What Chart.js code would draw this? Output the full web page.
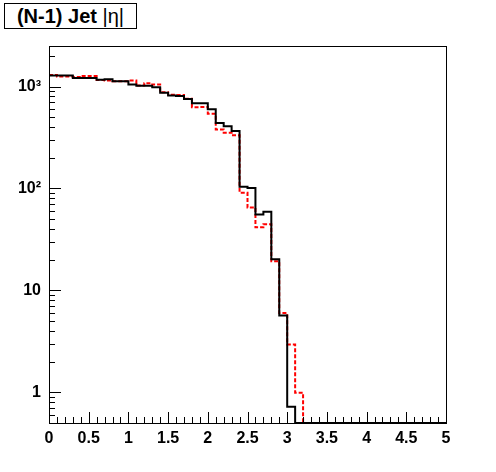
<!DOCTYPE html>
<html>
<head>
<meta charset="utf-8">
<script src="https://cdn.jsdelivr.net/npm/chart.js@4/dist/chart.umd.min.js"></script>
<style>
  html, body { margin: 0; padding: 0; background: #fff; }
  #wrap { position: relative; width: 496px; height: 472px; }
  #c { position: absolute; left: 0; top: 0; }
  #title {
    position: absolute; left: 4px; top: 3px; width: 133px; height: 26px;
    border: 1px solid #000; background: #fff; box-sizing: border-box;
    font: bold 20px "Liberation Sans", Arial, sans-serif; color: #000;
    text-align: center; line-height: 24px; white-space: nowrap;
  }
  #title .eta { font-weight: normal; }
</style>
</head>
<body>
<div id="wrap">
  <canvas id="c" width="496" height="472"></canvas>
  <div id="title">(N-1) Jet <span class="eta">|η|</span></div>
</div>
<script>
// Bin low edges (width 0.1)
const binLow = [0.0,0.1,0.2,0.3,0.4,0.5,0.6,0.7,0.8,0.9,
                1.0,1.1,1.2,1.3,1.4,1.5,1.6,1.7,1.8,1.9,
                2.0,2.1,2.2,2.3,2.4,2.5,2.6,2.7,2.8,2.9,
                3.0,3.1,3.2,3.3,3.4,3.5,3.6,3.7,3.8,3.9,
                4.0,4.1,4.2,4.3,4.4,4.5,4.6,4.7,4.8,4.9];
const binWidth = 0.1;

// Black solid histogram
const blackCounts = [1281,1281,1281,1216,1216,1216,1163,1179,1127,1127,
                     1046,1016,1016,984,868,815,810,755,687,687,
                     600,438,409,366,104,101,55.7,59,20.2,5.67,
                     0.72,0,0,0,0,0,0,0,0,0,
                     0,0,0,0,0,0,0,0,0,0];
// Red dashed histogram
const redCounts = [1302,1253,1253,1239,1272,1272,1157,1144,1127,1127,
                   1144,1023,1077,1046,880,830,826,758,628,630,
                   541,380,353,332,91,65,41.6,44.5,19.3,6.0,
                   2.94,0.99,0,0,0,0,0,0,0,0,
                   0,0,0,0,0,0,0,0,0,0];

const xTickLabels = ['0','0.5','1','1.5','2','2.5','3','3.5','4','4.5','5'];
const yTickValues = [1, 10, 100, 1000];
const yTickLabels = ['1', '10', '10\u00B2', '10\u00B3'];

const Y_MIN = 0.5, Y_MAX = 2500;

function stepPoints(counts) {
  const pts = counts.map((v, i) => ({ x: binLow[i], y: v > 0 ? v : Y_MIN }));
  const last = counts.length - 1;
  pts.push({ x: binLow[last] + binWidth, y: pts[last].y });
  return pts;
}

const FONT = { family: '"Liberation Sans", Arial, sans-serif', size: 16, weight: 'bold' };

const frameTicks = {
  id: 'frameTicks',
  afterDatasetsDraw(chart) {
    const { ctx, chartArea: a, scales } = chart;
    const xs = scales.x, ys = scales.y;
    ctx.save();
    ctx.strokeStyle = '#000';
    ctx.lineWidth = 1;
    ctx.beginPath();
    for (let i = 0; i <= 50; i++) {
      const v = i / 10;
      const px = Math.round(xs.getPixelForValue(v)) + 0.5;
      const len = (i % 5 === 0) ? 11 : 6;
      ctx.moveTo(px, a.bottom);
      ctx.lineTo(px, a.bottom - len);
    }
    for (let e = -1; e <= 3; e++) {
      for (let m = 1; m <= 9; m++) {
        const v = m * Math.pow(10, e);
        if (v < Y_MIN || v > Y_MAX) continue;
        const py = Math.round(ys.getPixelForValue(v)) + 0.5;
        const len = (m === 1) ? 12 : 6;
        ctx.moveTo(a.left, py);
        ctx.lineTo(a.left + len, py);
      }
    }
    ctx.stroke();
    ctx.strokeRect(Math.round(a.left) + 0.5, Math.round(a.top) + 0.5,
                   Math.round(a.right - a.left), Math.round(a.bottom - a.top));
    ctx.restore();
  }
};

new Chart(document.getElementById('c'), {
  type: 'line',
  data: {
    datasets: [
      {
        label: 'red',
        data: stepPoints(redCounts),
        borderColor: '#ff0000',
        borderWidth: 2,
        borderDash: [4, 2],
        stepped: true,
        pointRadius: 0,
        fill: false,
        order: 2
      },
      {
        label: 'black',
        data: stepPoints(blackCounts),
        borderColor: '#000000',
        borderWidth: 2,
        stepped: true,
        pointRadius: 0,
        fill: false,
        order: 1
      }
    ]
  },
  options: {
    responsive: false,
    animation: false,
    devicePixelRatio: 1,
    layout: { padding: { top: 46, right: 50, left: 0, bottom: 0 } },
    plugins: { legend: { display: false }, title: { display: false }, tooltip: { enabled: false } },
    scales: {
      x: {
        type: 'linear', min: 0, max: 5,
        border: { display: false },
        grid: { display: false, drawTicks: false },
        ticks: {
          stepSize: 0.5, color: '#000', font: FONT, padding: 6, maxRotation: 0,
          autoSkip: false,
          callback: (v, i) => xTickLabels[i]
        },
        afterFit: s => { s.height = 49; }
      },
      y: {
        type: 'logarithmic', min: Y_MIN, max: Y_MAX,
        border: { display: false },
        grid: { display: false, drawTicks: false },
        afterBuildTicks: s => { s.ticks = yTickValues.map(v => ({ value: v })); },
        ticks: {
          color: '#000', font: FONT, padding: 8, autoSkip: false,
          callback: (v, i) => yTickLabels[i]
        },
        afterFit: s => { s.width = 49; }
      }
    }
  },
  plugins: [frameTicks]
});
</script>
</body>
</html>
